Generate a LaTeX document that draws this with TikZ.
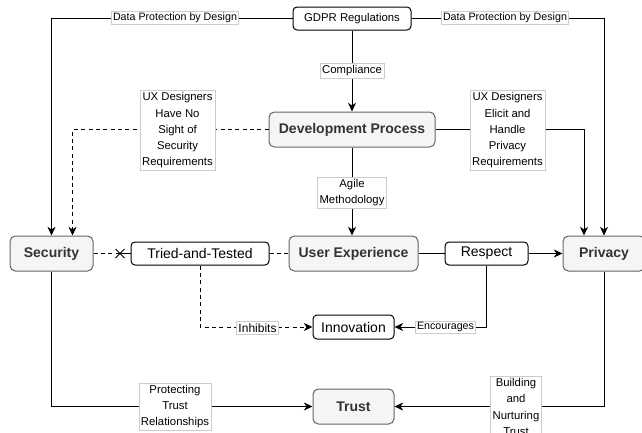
\documentclass[tikz,border=0pt]{standalone}
\usepackage{fontspec}
\setmainfont{Liberation Sans}
\usetikzlibrary{arrows.meta}
\definecolor{grayfill}{HTML}{F5F5F5}
\definecolor{graydraw}{HTML}{666666}
\definecolor{graytext}{HTML}{333333}
\definecolor{lblborder}{HTML}{CCCCCC}
\begin{document}
\begin{tikzpicture}[x=0.75pt,y=-0.75pt,
  bignode/.style={draw=graydraw, fill=grayfill, rounded corners=4pt, line width=0.75pt,
    font=\fontsize{10.5}{12}\selectfont\bfseries, text=graytext, minimum height=26.25pt, inner sep=0pt},
  smallnode/.style={draw=black, fill=white, rounded corners=3pt, line width=0.75pt,
    font=\fontsize{10.5}{12}\selectfont, minimum height=17.25pt, inner sep=0pt},
  lbl/.style={fill=white, draw=lblborder, line width=0.4pt, font=\fontsize{8.5}{12.2}\selectfont,
    align=center, inner sep=1.5pt},
  smalllbl/.style={lbl, font=\fontsize{8}{10}\selectfont, inner sep=1pt},
  conn/.style={line width=0.75pt},
  arr/.style={conn, -{Stealth[length=6.5pt,width=6pt,inset=2pt]}},
  dsh/.style={dash pattern=on 3pt off 2.5pt}]
\useasboundingbox (0,0) rectangle (642,432);

% nodes
\node[smallnode, minimum width=88.5pt, font=\fontsize{8.5}{10}\selectfont] (gdpr) at (352,18.5) {GDPR Regulations};
\node[bignode, minimum width=124.5pt] (dev) at (352,129.5) {Development Process};
\node[bignode, minimum width=62.25pt] (sec) at (51.5,253.5) {Security};
\node[smallnode, minimum width=103.5pt] (tried) at (200,253.5) {Tried-and-Tested};
\node[bignode, minimum width=96.75pt] (ux) at (353.5,253.5) {User Experience};
\node[smallnode, minimum width=62.25pt] (resp) at (486.5,253.5) {Respect};
\node[bignode, minimum width=61.5pt] (priv) at (604,253.5) {Privacy};
\node[smallnode, minimum width=60.75pt, minimum height=18pt] (innov) at (353.5,327) {Innovation};
\node[bignode, minimum width=60.75pt] (trust) at (353.5,406.5) {Trust};
\coordinate (cross) at (120,253.5);

% connectors
\draw[arr] (gdpr.west) -| (sec.north);
\draw[arr] (gdpr.east) -| (priv.north);
\draw[arr] (gdpr.south) -- (dev.north);
\draw[arr, dsh] (dev.west) -| ([xshift=15.75pt]sec.north);
\draw[arr] (dev.east) -| ([xshift=-15pt]priv.north);
\draw[arr] (dev.south) -- (dev.south |- ux.north);
\draw[conn, dsh] (sec.east) -- (cross);
\draw[conn] (cross) -- (tried.west);
\draw[conn] ([shift={(-4.5,-4.5)}]cross) -- ([shift={(4.5,4.5)}]cross);
\draw[conn] ([shift={(-4.5,4.5)}]cross) -- ([shift={(4.5,-4.5)}]cross);
\draw[conn, dsh] (tried.east) -- (ux.west);
\draw[arr, dsh] (tried.south) |- (innov.west);
\draw[conn] (ux.east) -- (resp.west);
\draw[arr] (resp.east) -- (priv.west);
\draw[arr] (resp.south) |- (innov.east);
\draw[arr] (sec.south) |- (trust.west);
\draw[arr] (priv.south) |- (trust.east);

% labels
\node[smalllbl] (l1) at (175,18) {Data Protection by Design};
\node[smalllbl] (l2) at (505,18) {Data Protection by Design};
\node[lbl] (l3) at (352,71) {Compliance};
\node[lbl] (l4) at (177.5,130.5) {UX Designers\\Have No\\Sight of\\Security\\Requirements};
\node[lbl] (l5) at (507.5,130.5) {UX Designers\\Elicit and\\Handle\\Privacy\\Requirements};
\node[lbl] (l6) at (352,192.5) {Agile\\Methodology};
\node[lbl, font=\fontsize{9}{11}\selectfont] (l7) at (257.5,328) {Inhibits};
\node[smalllbl] (l8) at (445.5,327) {Encourages};
\node[lbl] (l9) at (175,406.5) {Protecting\\Trust\\Relationships};
\node[lbl] (l10) at (516,407) {Building\\and\\Nurturing\\Trust};
\end{tikzpicture}
\end{document}
